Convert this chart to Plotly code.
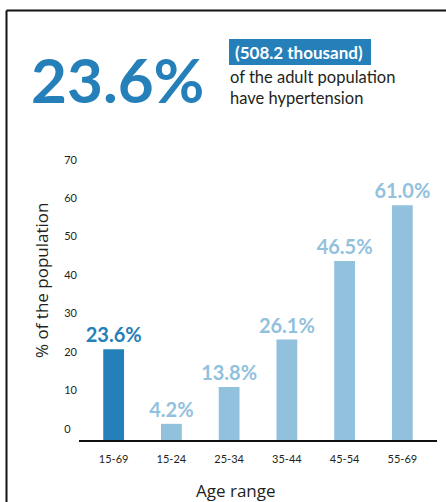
import plotly.graph_objects as go

# ---- data ----
categories = ["15-69", "15-24", "25-34", "35-44", "45-54", "55-69"]
values = [23.6, 4.2, 13.8, 26.1, 46.5, 61.0]
y_ticks = [0, 10, 20, 30, 40, 50, 60, 70]
headline_value = "23.6%"
headline_count = "(508.2 thousand)"
headline_text = ["of the adult population", "have hypertension"]

DARK = "#2580b9"
LIGHT = "#92c1de"
TEXT = "#231f20"
FONT = "Lato"
FONT2 = "Open Sans"

colors = [DARK] + [LIGHT] * (len(values) - 1)

# plot area in pixels
L, R_EDGE, TOP, BOT = 79, 437, 163, 440
W, H = R_EDGE - L, BOT - TOP


def px(x):
    return (x - L) / W


def py(y):
    return (BOT - y) / H


fig = go.Figure(
    go.Bar(
        x=categories,
        y=values,
        marker=dict(color=colors, line=dict(width=0)),
        width=0.36,
        text=[f"{v:.1f}%" for v in values],
        textposition="outside",
        constraintext="none",
        textfont=dict(family=FONT, size=20, color=colors, weight="bold"),
        cliponaxis=False,
        hoverinfo="skip",
    )
)

fig.update_layout(
    width=446,
    height=502,
    margin=dict(l=L, r=446 - R_EDGE, t=TOP, b=502 - BOT),
    paper_bgcolor="white",
    plot_bgcolor="white",
    showlegend=False,
    font=dict(family=FONT, color=TEXT),
    xaxis=dict(
        range=[-0.6, 5.6],
        showline=True,
        linecolor="#111111",
        linewidth=1.5,
        showgrid=False,
        ticks="",
        tickfont=dict(size=11, color=TEXT),
        ticklabelstandoff=8,
        fixedrange=True,
    ),
    yaxis=dict(
        range=[0, 72],
        showline=False,
        showgrid=False,
        zeroline=False,
        ticks="",
        tickvals=y_ticks,
        ticktext=[str(v) if v >= 10 else f"{v}\u2007" for v in y_ticks],
        tickfont=dict(size=11, color=TEXT),
        ticklabelshift=-11,
        ticklabelstandoff=1,
        fixedrange=True,
    ),
    shapes=[
        dict(type="line", xref="paper", yref="paper",
             x0=px(6.5), x1=px(450), y0=py(10.5), y1=py(10.5),
             line=dict(color="#111111", width=2)),
        dict(type="line", xref="paper", yref="paper",
             x0=px(6.5), x1=px(6.5), y0=py(10.5), y1=py(510),
             line=dict(color="#111111", width=2)),
        dict(type="rect", xref="paper", yref="paper",
             x0=px(229), x1=px(371), y0=py(39), y1=py(65),
             fillcolor=DARK, line=dict(width=0)),
    ],
    annotations=[
        dict(text=headline_value, xref="paper", yref="paper",
             x=px(117), y=py(79), xanchor="center", yanchor="middle",
             showarrow=False,
             font=dict(family=FONT, size=62, color=DARK, weight="bold")),
        dict(text=headline_count, xref="paper", yref="paper",
             x=px(299), y=py(52), xanchor="center", yanchor="middle",
             showarrow=False,
             font=dict(family=FONT, size=17, color="white", weight="bold")),
        dict(text="<br>".join(headline_text), xref="paper", yref="paper",
             x=px(228), y=py(88), xanchor="left", yanchor="middle",
             align="left", showarrow=False,
             font=dict(family=FONT, size=16.5, color=TEXT)),
        dict(text="% of the population", xref="paper", yref="paper",
             x=px(41), y=py(281), xanchor="center", yanchor="middle",
             textangle=-90, showarrow=False,
             font=dict(family=FONT2, size=17, color=TEXT)),
        dict(text="Age range", xref="paper", yref="paper",
             x=px(236), y=py(490), xanchor="center", yanchor="middle",
             showarrow=False,
             font=dict(family=FONT2, size=17, color=TEXT)),
    ],
)

fig.write_html("out.html", config={"displayModeBar": False},
               post_script="document.body.style.margin='0';")
